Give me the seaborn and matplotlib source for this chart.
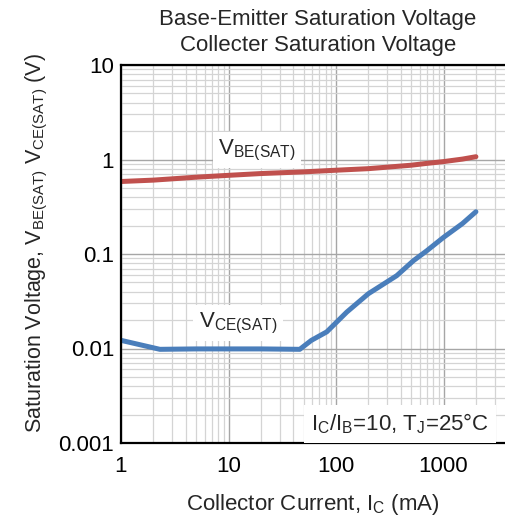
import numpy as np
import pandas as pd
import matplotlib
matplotlib.use("Agg")
import matplotlib.pyplot as plt
import matplotlib.ticker as mticker
import seaborn as sns

# --- data ---
ic_be = [1, 2, 5, 10, 20, 50, 100, 200, 300, 500, 700, 1000, 1500, 2000]
vbe_sat = [0.585, 0.605, 0.65, 0.68, 0.71, 0.74, 0.77, 0.8, 0.83, 0.87, 0.91, 0.95, 1.01, 1.07]

ic_ce = [1, 2.3, 5, 10, 20, 46, 59, 82, 126, 200, 367, 525, 697, 1000, 1500, 2000]
vce_sat = [0.0122, 0.0098, 0.0099, 0.0099, 0.0099, 0.0098, 0.0122, 0.015, 0.0243,
           0.038, 0.059, 0.085, 0.108, 0.15, 0.21, 0.28]

x_ticks = [1, 10, 100, 1000]
x_tick_labels = ["1", "10", "100", "1000"]
y_ticks = [0.001, 0.01, 0.1, 1, 10]
y_tick_labels = ["0.001", "0.01", "0.1", "1", "10"]

df = pd.concat([
    pd.DataFrame({"ic": ic_be, "v": vbe_sat, "curve": "VBE"}),
    pd.DataFrame({"ic": ic_ce, "v": vce_sat, "curve": "VCE"}),
])

sns.set_style("white")
plt.rcParams["font.family"] = ["Liberation Sans", "DejaVu Sans"]
plt.rcParams["mathtext.fontset"] = "custom"
plt.rcParams["mathtext.rm"] = "Liberation Sans"
plt.rcParams["mathtext.it"] = "Liberation Sans"
plt.rcParams["mathtext.default"] = "rm"

fs = 16

fig = plt.figure(figsize=(5.05, 5.18), dpi=100)
ax = fig.add_axes([121 / 505, 1 - 443 / 518, 384 / 505, 378 / 518])

sns.lineplot(data=df, x="ic", y="v", hue="curve",
             palette={"VBE": "#c0504d", "VCE": "#4a7ebb"},
             linewidth=3.6, legend=False, ax=ax, estimator=None, sort=False)

ax.set_xscale("log")
ax.set_yscale("log")
ax.set_xlim(1, 3730)
ax.set_ylim(0.001, 10)

ax.xaxis.set_major_locator(mticker.FixedLocator(x_ticks))
ax.set_xticklabels(x_tick_labels)
ax.yaxis.set_major_locator(mticker.FixedLocator(y_ticks))
ax.set_yticklabels(y_tick_labels)
ax.xaxis.set_minor_locator(mticker.LogLocator(base=10, subs=np.arange(2, 10)))
ax.yaxis.set_minor_locator(mticker.LogLocator(base=10, subs=np.arange(2, 10)))
ax.xaxis.set_minor_formatter(mticker.NullFormatter())
ax.yaxis.set_minor_formatter(mticker.NullFormatter())

ax.grid(True, which="major", color="#a6a6a6", linewidth=1.0)
ax.grid(True, which="minor", color="#d4d4d4", linewidth=0.9)
ax.set_axisbelow(True)
ax.tick_params(which="both", length=0, labelsize=fs, colors="black")
ax.tick_params(axis="x", pad=9)
ax.tick_params(axis="y", pad=5)

for side in ["left", "bottom", "top"]:
    ax.spines[side].set_visible(True)
    ax.spines[side].set_color("black")
    ax.spines[side].set_linewidth(1.6)
ax.spines["right"].set_visible(False)

ax.set_xlabel("Collector Current, I$_{\\mathrm{C}}$ (mA)", fontsize=fs, labelpad=11)
ax.set_ylabel("Saturation Voltage, V$_{\\mathrm{BE(SAT)}}$ V$_{\\mathrm{CE(SAT)}}$ (V)",
              fontsize=15.5)
ax.yaxis.set_label_coords(-0.186, 0.53)

fig.text(318 / 505, 1 - 19 / 518, "Base-Emitter Saturation Voltage",
         ha="center", va="center", fontsize=fs)
fig.text(318 / 505, 1 - 45 / 518, "Collecter Saturation Voltage",
         ha="center", va="center", fontsize=fs)

box = dict(facecolor="white", edgecolor="none", pad=4)
ax.text(0.354, 0.775, "V$_{\\mathrm{BE(SAT)}}$", transform=ax.transAxes,
        ha="center", va="center", fontsize=fs, bbox=box)
ax.text(0.305, 0.317, "V$_{\\mathrm{CE(SAT)}}$", transform=ax.transAxes,
        ha="center", va="center", fontsize=fs, bbox=box)
ax.text(0.727, 0.05, "I$_{\\mathrm{C}}$/I$_{\\mathrm{B}}$=10, T$_{\\mathrm{J}}$=25°C",
        transform=ax.transAxes, ha="center", va="center", fontsize=fs,
        bbox=dict(facecolor="white", edgecolor="none", pad=5))

fig.savefig("out.png", dpi=100)
